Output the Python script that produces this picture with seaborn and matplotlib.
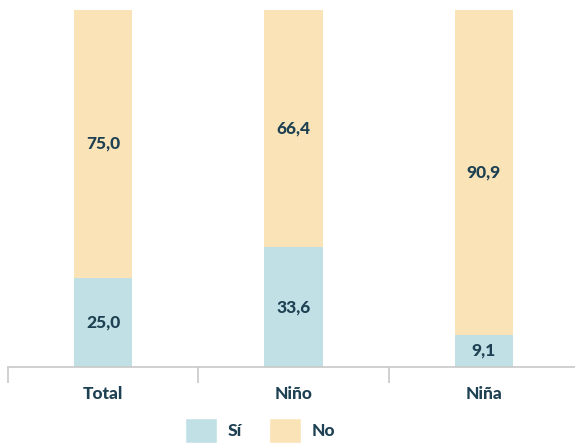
import numpy as np
import pandas as pd
import matplotlib.pyplot as plt
import seaborn as sns
from matplotlib.patches import Patch

# Data
categorias = ["Total", "Niño", "Niña"]
si = [25.0, 33.6, 9.1]
no = [75.0, 66.4, 90.9]

col_si = "#c0e0e6"
col_no = "#fae3b6"
col_txt = "#1d4052"
col_axis = "#c8c8c8"

sns.set_style("white")
plt.rcParams['font.family'] = ['Lato', 'DejaVu Sans']
W = "black"

df = pd.DataFrame({"cat": categorias, "si": si, "no": no})
df["total"] = df["si"] + df["no"]

fig = plt.figure(figsize=(5.75, 4.44), dpi=100)
ax = fig.add_axes([8 / 575, 77 / 444, 571 / 575, 357 / 444])

# stacked: full bar in "No" colour, then "Sí" over it from the base
sns.barplot(data=df, x="cat", y="total", color=col_no, width=0.305, ax=ax,
            saturation=1, linewidth=0)
sns.barplot(data=df, x="cat", y="si", color=col_si, width=0.305, ax=ax,
            saturation=1, linewidth=0)

for i, (s, n) in enumerate(zip(si, no)):
    ax.text(i, s / 2, f"{s:.1f}".replace(".", ","), ha="center", va="center",
            fontsize=12.5, fontweight=W, color=col_txt)
    ax.text(i, s + n / 2, f"{n:.1f}".replace(".", ","), ha="center", va="center",
            fontsize=12.5, fontweight=W, color=col_txt)

ax.set_xlim(-0.5, 2.5)
ax.set_ylim(0, 100)
ax.set_xlabel("")
ax.set_ylabel("")
ax.set_yticks([])
for s in ["top", "right", "left"]:
    ax.spines[s].set_visible(False)
ax.spines["bottom"].set_color(col_axis)
ax.spines["bottom"].set_linewidth(1.2)

ax.set_xticks(range(len(categorias)))
ax.set_xticklabels(categorias, fontsize=12.5, fontweight=W, color=col_txt)
ax.tick_params(axis="x", which="major", bottom=True, length=0, pad=14)
ax.set_xticks([-0.5, 0.5, 1.5, 2.5], minor=True)
ax.tick_params(axis="x", which="minor", bottom=True, length=11.5, width=1.2,
               color=col_axis, direction="out")

handles = [Patch(facecolor=col_si, label="Sí"), Patch(facecolor=col_no, label="No")]
leg = fig.legend(handles=handles, loc="lower center", bbox_to_anchor=(0.452, -0.034), ncol=2,
                 frameon=False, handlelength=1.85, handleheight=1.85, handletextpad=0.6,
                 columnspacing=1.6, prop={"weight": W, "size": 12.5})
for t in leg.get_texts():
    t.set_color(col_txt)

fig.savefig("out.png", dpi=100)
